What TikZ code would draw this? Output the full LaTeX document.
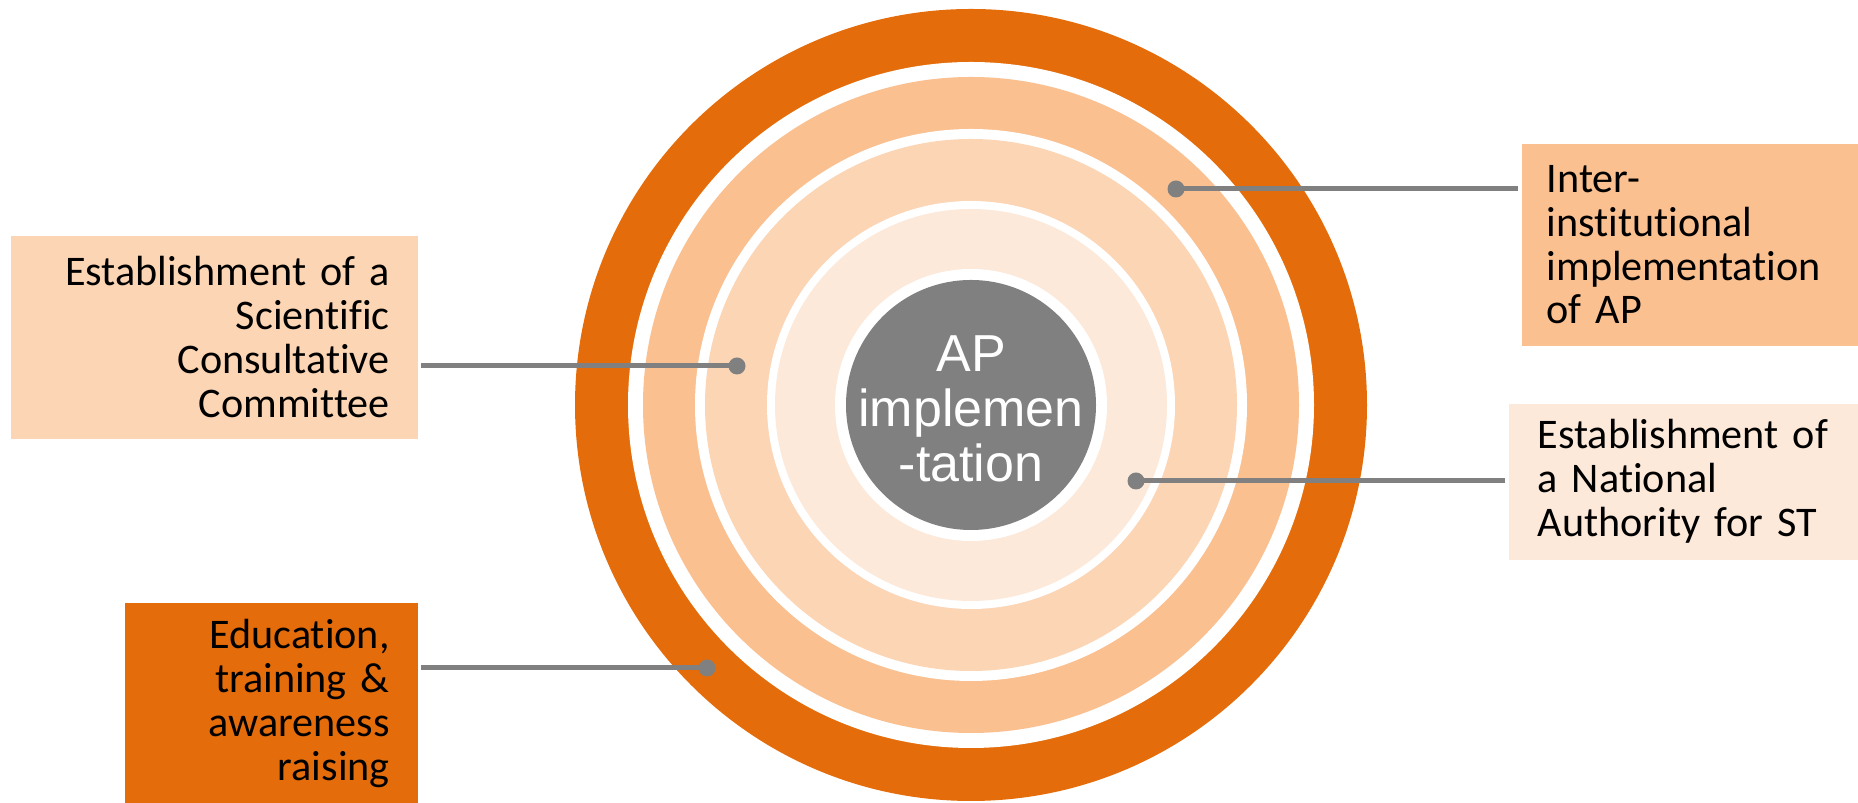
\documentclass[tikz,border=0pt]{standalone}
\usepackage{fontspec}
\setmainfont{Carlito}[Ligatures=NoCommon, WordSpace=0.85]
\newfontfamily\corefont{Liberation Sans}
\usepackage{tikz}
\definecolor{ringA}{HTML}{E46C0A}
\definecolor{ringB}{HTML}{FAC090}
\definecolor{ringC}{HTML}{FCD5B5}
\definecolor{ringD}{HTML}{FDE9D9}
\definecolor{coregrey}{HTML}{808080}
\tikzset{
	box/.style={anchor=north west, inner ysep=0pt, font=\fontsize{12}{12.5}\selectfont},
	conn/.style={draw=coregrey, line width=0.05cm, shorten <=0.03cm}
}

\begin{document}
\begin{tikzpicture}
			\useasboundingbox (0,0) rectangle (18.58,8.03);
			\coordinate (ctr) at (9.71,3.98);
			\foreach \r/\c in {3.96/ringA, 3.43/white, 3.28/ringB, 2.76/white, 2.66/ringC, 2.04/white, 1.96/ringD, 1.36/white, 1.25/coregrey}
				\fill[\c] (ctr) circle (\r);
			\node[text=white, align=center, font=\corefont\fontsize{14.8}{15.6}\selectfont] (core) at ([yshift=-0.04cm]ctr) {AP\\implemen\\-tation};
			
			\node[box, fill=ringC, text width=3.51cm, inner xsep=0.28cm, minimum height=2.03cm, align=right] (boxA) at (0.10,5.68) {Establishment of a\\Scientific\\Consultative\\Committee};
			\node[box, fill=ringB, text width=2.87cm, inner xsep=0.25cm, minimum height=2.02cm, align=left] (boxB) at (15.21,6.60) {Inter-\\institutional\\implementation\\of AP};
			\node[box, fill=ringD, text width=2.92cm, inner xsep=0.29cm, minimum height=1.56cm, align=left] (boxC) at (15.08,4.00) {Establishment of\\a National\\Authority for ST};
			\node[box, fill=ringA, text width=2.37cm, inner xsep=0.28cm, minimum height=2.01cm, align=right] (boxD) at (1.24,2.01) {Education,\\training \&\\awareness\\raising};
			
			\coordinate (dotA) at (7.37,4.37);
			\coordinate (dotB) at (11.76,6.14);
			\coordinate (dotC) at (11.36,3.22);
			\coordinate (dotD) at (7.07,1.35);
			\draw[conn] (boxA.east |- dotA) -- (dotA);
			\draw[conn] (boxB.west |- dotB) -- (dotB);
			\draw[conn] (boxC.west |- dotC) -- (dotC);
			\draw[conn] (boxD.east |- dotD) -- (dotD);
			\foreach \d in {dotA, dotB, dotC, dotD} \fill[coregrey] (\d) circle (0.085);
		\end{tikzpicture}
\end{document}
